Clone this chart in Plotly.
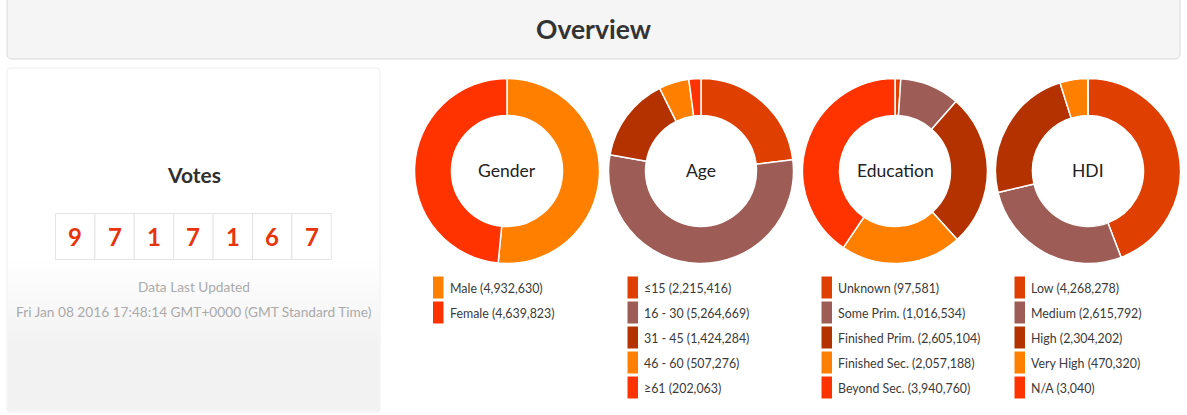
import plotly.graph_objects as go

W, H = 1187, 415

page_title = "Overview"
panel_title = "Votes"
vote_digits = ["9", "7", "1", "7", "1", "6", "7"]
updated_label = "Data Last Updated"
updated_time = "Fri Jan 08 2016 17:48:14 GMT+0000 (GMT Standard Time)"

gender_names = ["Male", "Female"]
gender_values = [4932630, 4639823]
age_names = ["≤15", "16 - 30", "31 - 45", "46 - 60", "≥61"]
age_values = [2215416, 5264669, 1424284, 507276, 202063]
education_names = ["Unknown", "Some Prim.", "Finished Prim.", "Finished Sec.", "Beyond Sec."]
education_values = [97581, 1016534, 2605104, 2057188, 3940760]
hdi_names = ["Low", "Medium", "High", "Very High", "N/A"]
hdi_values = [4268278, 2615792, 2304202, 470320, 3040]

five_colors = ["#DF3F00", "#9E5C56", "#B33200", "#FF8000", "#FF3300"]
two_colors = ["#FF8000", "#FF3300"]

FONT = "Lato"


def px(x):
    return x / W


def py(y):
    return 1 - y / H


def rounded(x0, y0, x1, y1, r):
    a, b, c, d = px(x0), py(y0), px(x1), py(y1)
    rx, ry = r / W, r / H
    return (f"M {a+rx} {b} L {c-rx} {b} Q {c} {b} {c} {b-ry} L {c} {d+ry} Q {c} {d} {c-rx} {d} "
            f"L {a+rx} {d} Q {a} {d} {a} {d+ry} L {a} {b-ry} Q {a} {b} {a+rx} {b} Z")


def rect(x0, y0, x1, y1, fill, line=None, width=1):
    return dict(type="rect", xref="paper", yref="paper", x0=px(x0), x1=px(x1), y0=py(y0), y1=py(y1),
                fillcolor=fill, line=dict(color=line or fill, width=width if line else 0), layer="below")


def text(x, y, s, size, color, anchor="center", weight="normal"):
    return dict(xref="paper", yref="paper", x=px(x), y=py(y), text=s, showarrow=False, xanchor=anchor,
                yanchor="middle", borderpad=0, borderwidth=0,
                font=dict(family=FONT, size=size, color=color, weight=weight))


charts = [
    ("Gender", gender_names, gender_values, two_colors, 507, 433, 450),
    ("Age", age_names, age_values, five_colors, 701, 627.5, 644),
    ("Education", education_names, education_values, five_colors, 895, 821.5, 838),
    ("HDI", hdi_names, hdi_values, five_colors, 1088, 1014.5, 1031),
]

fig = go.Figure()
shapes = []
annotations = []

# page header
shapes.append(dict(type="path", xref="paper", yref="paper", path=rounded(7, -8, 1180, 59, 5),
                   fillcolor="#F5F5F5", line=dict(color="#DADADA", width=1), layer="below"))
annotations.append(text(593.5, 28.5, page_title, 26.5, "#333333", weight=700))

# votes panel: soft outline, then a white-to-grey fade made of thin strips
shapes.append(dict(type="path", xref="paper", yref="paper", path=rounded(7, 68, 380, 412, 4),
                   fillcolor="#FFFFFF", line=dict(color="#F3F3F3", width=1.5), layer="below"))
fade_top, fade_bottom, strips = 258, 411, 51
for i in range(strips):
    t = (i + 1) / strips
    level = round(255 - 13 * min(1, t * 1.7))
    y0 = fade_top + (fade_bottom - fade_top) * i / strips
    y1 = fade_top + (fade_bottom - fade_top) * (i + 1) / strips + 0.5
    shapes.append(rect(8, y0, 379, min(y1, fade_bottom), f"rgb({level},{level},{level})"))

annotations.append(text(193.5, 174, panel_title, 21, "#2F2F2F", weight=700))
cell_left, cell_w = 55.5, 39.4
for i, digit in enumerate(vote_digits):
    shapes.append(rect(cell_left + i * cell_w, 213.5, cell_left + (i + 1) * cell_w, 259.5,
                       "#FFFFFF", "#E4E4E4", 1))
    annotations.append(text(cell_left + (i + 0.5) * cell_w, 236.5, digit, 24, "#E8340C", weight=700))
annotations.append(text(193.5, 286, updated_label, 13.7, "#AAAAAA"))
annotations.append(text(193.5, 311, updated_time, 13.7, "#AAAAAA"))

# donuts and their legends
for title, names, values, colors, cx, sw_x, tx in charts:
    fig.add_trace(go.Pie(
        labels=names, values=values, hole=0.6, sort=False, direction="clockwise", rotation=0,
        marker=dict(colors=colors, line=dict(color="#FFFFFF", width=1.5)),
        textinfo="none", showlegend=False,
        domain=dict(x=[px(cx - 92.5), px(cx + 92.5)], y=[py(264), py(78)]),
    ))
    annotations.append(text(cx, 170.5, title, 17.5, "#222222"))
    for i, (name, value) in enumerate(zip(names, values)):
        y = 287.5 + i * 25
        shapes.append(rect(sw_x, y - 11, sw_x + 10.5, y + 11, colors[i]))
        annotations.append(text(tx, y + 0.5, f"{name} ({value:,})", 12.4, "#3A3A3A", "left"))

fig.update_layout(width=W, height=H, margin=dict(l=0, r=0, t=0, b=0), paper_bgcolor="#FFFFFF",
                  shapes=shapes, annotations=annotations, font=dict(family=FONT))
fig.write_html("out.html", config=dict(displayModeBar=False),
               post_script="document.body.style.margin='0';document.body.style.overflow='hidden';")
